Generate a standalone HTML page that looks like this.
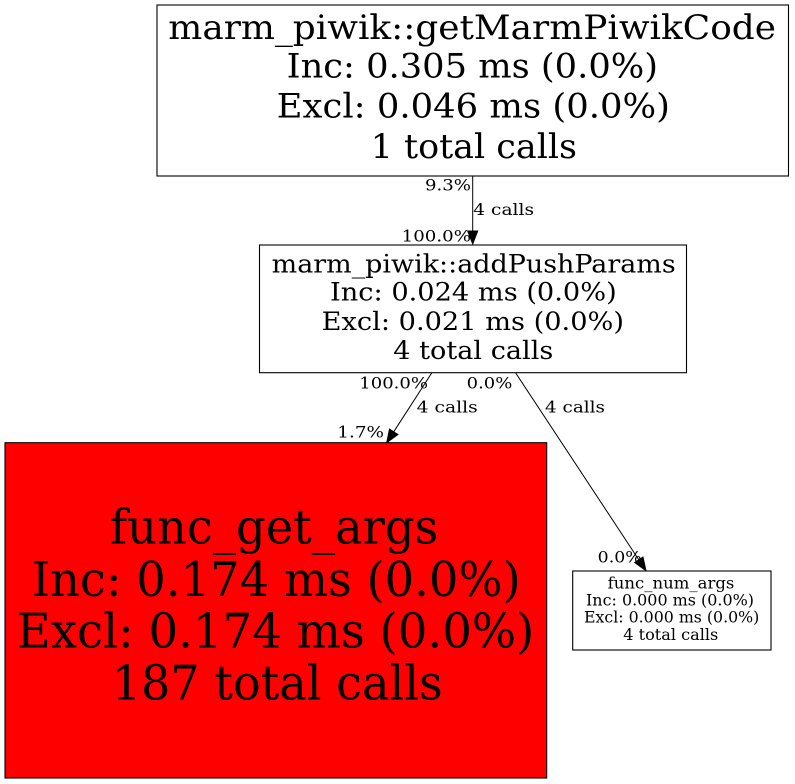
<!DOCTYPE html>
<html>
<head>
<meta charset="utf-8">
<style>
  html, body { margin: 0; padding: 0; background: #fff; }
  svg { display: block; }
  text { font-family: "DejaVu Serif", "Liberation Serif", serif; fill: #000; }
</style>
</head>
<body>
<svg width="795" height="784" viewBox="0 0 795 784" xmlns="http://www.w3.org/2000/svg">
  <rect x="0" y="0" width="795" height="784" fill="#fff"/>

  <!-- Top node -->
  <rect x="157" y="5" width="631.5" height="171" fill="#fff" stroke="#000" stroke-width="1.1"/>
  <g font-size="33.5">
    <text x="168.3" y="39" textLength="607.7" lengthAdjust="spacingAndGlyphs">marm_piwik::getMarmPiwikCode</text>
    <text x="286.7" y="77.7" textLength="371.3" lengthAdjust="spacingAndGlyphs">Inc: 0.305 ms (0.0%)</text>
    <text x="276.7" y="117.3" textLength="393.3" lengthAdjust="spacingAndGlyphs">Excl: 0.046 ms (0.0%)</text>
    <text x="370.7" y="158" textLength="206.3" lengthAdjust="spacingAndGlyphs">1 total calls</text>
  </g>

  <!-- Edge top -> middle -->
  <line x1="472.7" y1="176" x2="472.7" y2="231" stroke="#000" stroke-width="1"/>
  <polygon points="472.7,244 467.7,231 477.7,231" fill="#000" stroke="#000" stroke-width="1"/>
  <g font-size="16">
    <text x="425" y="190.7" textLength="46" lengthAdjust="spacingAndGlyphs">9.3%</text>
    <text x="473.3" y="215" textLength="60.7" lengthAdjust="spacingAndGlyphs">4 calls</text>
    <text x="401.7" y="241.7" textLength="69.3" lengthAdjust="spacingAndGlyphs">100.0%</text>
  </g>

  <!-- Middle node -->
  <rect x="259.5" y="245" width="427" height="127.7" fill="#fff" stroke="#000" stroke-width="1.1"/>
  <g font-size="25">
    <text x="271.7" y="272.3" textLength="404" lengthAdjust="spacingAndGlyphs">marm_piwik::addPushParams</text>
    <text x="330" y="300.7" textLength="286.7" lengthAdjust="spacingAndGlyphs">Inc: 0.024 ms (0.0%)</text>
    <text x="321.7" y="330" textLength="302.3" lengthAdjust="spacingAndGlyphs">Excl: 0.021 ms (0.0%)</text>
    <text x="393.3" y="359" textLength="160" lengthAdjust="spacingAndGlyphs">4 total calls</text>
  </g>

  <!-- Edge middle -> func_get_args -->
  <line x1="431.7" y1="373" x2="393.7" y2="431.8" stroke="#000" stroke-width="1"/>
  <polygon points="386.7,442.7 397.9,434.5 389.5,429.1" fill="#000" stroke="#000" stroke-width="1"/>
  <!-- Edge middle -> func_num_args -->
  <line x1="515.7" y1="373" x2="638.9" y2="559.9" stroke="#000" stroke-width="1"/>
  <polygon points="646,570.7 643,557.1 634.7,562.6" fill="#000" stroke="#000" stroke-width="1"/>

  <g font-size="16">
    <text x="359.3" y="388.3" textLength="68.7" lengthAdjust="spacingAndGlyphs">100.0%</text>
    <text x="466.7" y="388.3" textLength="45.6" lengthAdjust="spacingAndGlyphs">0.0%</text>
    <text x="416.7" y="412.7" textLength="61" lengthAdjust="spacingAndGlyphs">4 calls</text>
    <text x="545" y="412.7" textLength="60" lengthAdjust="spacingAndGlyphs">4 calls</text>
    <text x="337.3" y="437.3" textLength="46.7" lengthAdjust="spacingAndGlyphs">1.7%</text>
    <text x="597.7" y="562.3" textLength="44" lengthAdjust="spacingAndGlyphs">0.0%</text>
  </g>

  <!-- Red node -->
  <rect x="5" y="442.7" width="541.7" height="335.3" fill="#ff0000" stroke="#000" stroke-width="1.1"/>
  <g font-size="47.5">
    <text x="110" y="543.3" textLength="328.3" lengthAdjust="spacingAndGlyphs">func_get_args</text>
    <text x="31.7" y="596" textLength="489" lengthAdjust="spacingAndGlyphs">Inc: 0.174 ms (0.0%)</text>
    <text x="16.7" y="647.3" textLength="517.6" lengthAdjust="spacingAndGlyphs">Excl: 0.174 ms (0.0%)</text>
    <text x="111.7" y="699.3" textLength="331" lengthAdjust="spacingAndGlyphs">187 total calls</text>
  </g>

  <!-- Small node -->
  <rect x="572.7" y="571" width="198.3" height="79" fill="#fff" stroke="#000" stroke-width="1.1"/>
  <g font-size="15.5">
    <text x="607.7" y="588.5" textLength="126.7" lengthAdjust="spacingAndGlyphs">func_num_args</text>
    <text x="586" y="605.7" textLength="168" lengthAdjust="spacingAndGlyphs">Inc: 0.000 ms (0.0%)</text>
    <text x="584" y="622.7" textLength="175.3" lengthAdjust="spacingAndGlyphs">Excl: 0.000 ms (0.0%)</text>
    <text x="623.3" y="640" textLength="95" lengthAdjust="spacingAndGlyphs">4 total calls</text>
  </g>
</svg>
</body>
</html>
